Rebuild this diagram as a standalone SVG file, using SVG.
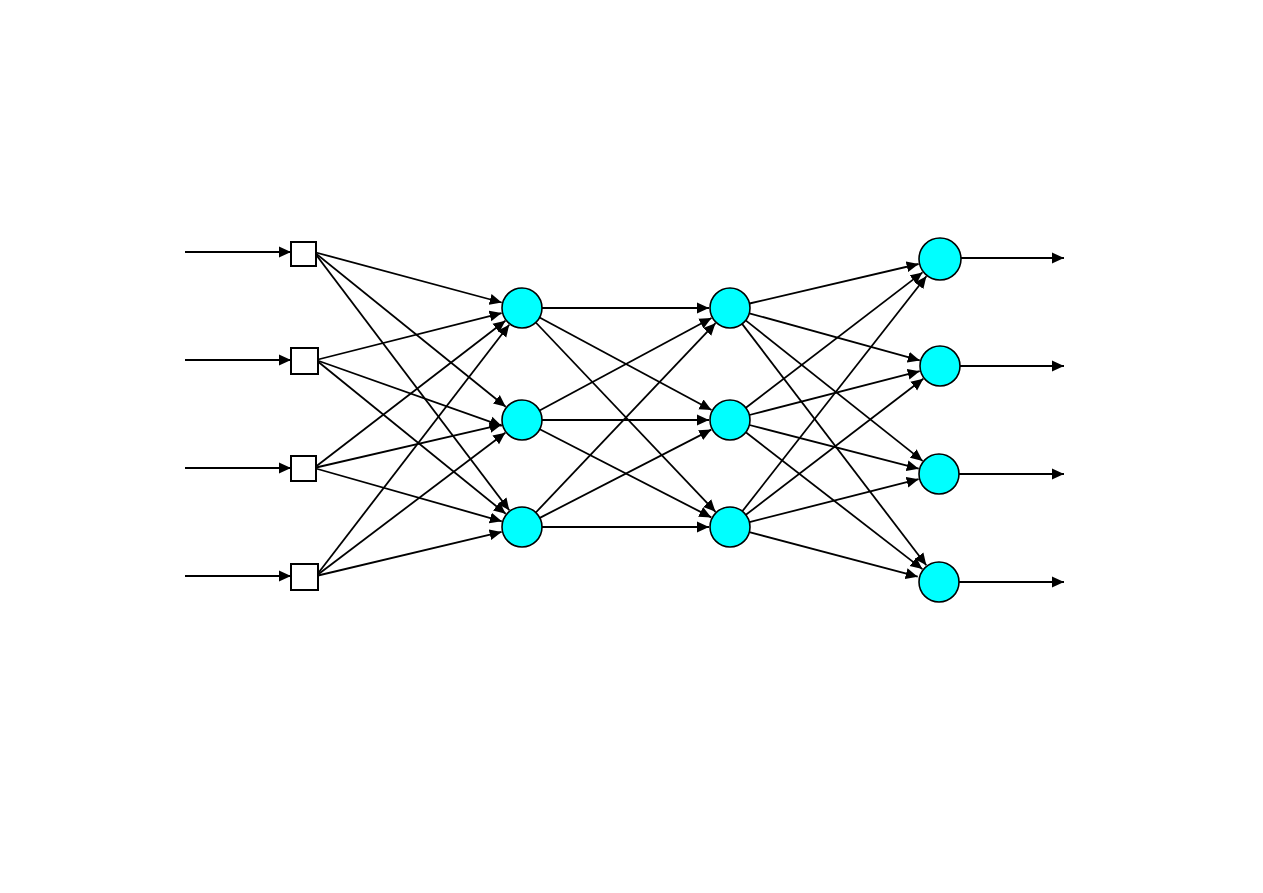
<svg xmlns="http://www.w3.org/2000/svg" width="1263" height="893" viewBox="0 0 1263 893">
<style>
.c{stroke:#000;stroke-width:1.8;fill:none;marker-end:url(#ah)}
.n{fill:#00FFFF;stroke:#000;stroke-width:1.6}
.s{fill:#fff;stroke:#000;stroke-width:2}
</style>
<defs>
<marker id="ah" markerUnits="userSpaceOnUse" markerWidth="12" markerHeight="12" refX="12" refY="6" orient="auto" viewBox="0 0 12 12">
<path d="M0,0.5 L12,6 L0,11.5 z" fill="#000"/>
</marker>
</defs>
<rect width="1263" height="893" fill="#fff"/>
<g id="connectors">
<line class="c" x1="185" y1="252" x2="291" y2="252"/>
<line class="c" x1="185" y1="360" x2="291" y2="360"/>
<line class="c" x1="185" y1="468" x2="291" y2="468"/>
<line class="c" x1="185" y1="576" x2="291" y2="576"/>
<line class="c" x1="314" y1="252" x2="501.7" y2="302.5"/>
<line class="c" x1="314" y1="252" x2="505.7" y2="406.8"/>
<line class="c" x1="314" y1="252" x2="509.3" y2="510.3"/>
<line class="c" x1="316" y1="360" x2="501.6" y2="313.1"/>
<line class="c" x1="316" y1="360" x2="501.8" y2="425.9"/>
<line class="c" x1="316" y1="360" x2="505.7" y2="513.8"/>
<line class="c" x1="314" y1="468" x2="505.4" y2="320.8"/>
<line class="c" x1="314" y1="468" x2="501.5" y2="424.7"/>
<line class="c" x1="314" y1="468" x2="501.8" y2="521.3"/>
<line class="c" x1="316" y1="576" x2="509.2" y2="324.7"/>
<line class="c" x1="316" y1="576" x2="505.3" y2="432.7"/>
<line class="c" x1="316" y1="576" x2="501.6" y2="531.9"/>
<line class="c" x1="542" y1="308" x2="709" y2="308"/>
<line class="c" x1="539.6" y1="317.5" x2="711.5" y2="410"/>
<line class="c" x1="535.8" y1="322.5" x2="715.5" y2="511.8"/>
<line class="c" x1="539.6" y1="410.5" x2="711.5" y2="318"/>
<line class="c" x1="542" y1="420" x2="709" y2="420"/>
<line class="c" x1="539.8" y1="429.2" x2="711.3" y2="517.4"/>
<line class="c" x1="535.8" y1="512.5" x2="715.5" y2="323.2"/>
<line class="c" x1="539.8" y1="517.9" x2="711.3" y2="429.6"/>
<line class="c" x1="542" y1="527" x2="709" y2="527"/>
<line class="c" x1="749.5" y1="303.5" x2="918.6" y2="264"/>
<line class="c" x1="749.3" y1="313.3" x2="919.8" y2="360.4"/>
<line class="c" x1="745.7" y1="320.4" x2="922.6" y2="460.9"/>
<line class="c" x1="742.1" y1="323.9" x2="926.3" y2="565.3"/>
<line class="c" x1="745.9" y1="407.8" x2="922.5" y2="272.4"/>
<line class="c" x1="749.4" y1="415" x2="919.7" y2="371.2"/>
<line class="c" x1="749.4" y1="425" x2="918.7" y2="468.7"/>
<line class="c" x1="745.8" y1="432.3" x2="922.4" y2="569.1"/>
<line class="c" x1="742.3" y1="511.3" x2="926.4" y2="276.3"/>
<line class="c" x1="745.9" y1="514.8" x2="923.3" y2="378.8"/>
<line class="c" x1="749.4" y1="522.1" x2="918.6" y2="479.2"/>
<line class="c" x1="749.3" y1="532.1" x2="917.7" y2="576.7"/>
<line class="c" x1="961" y1="258" x2="1064" y2="258"/>
<line class="c" x1="960" y1="366" x2="1064" y2="366"/>
<line class="c" x1="959" y1="474" x2="1064" y2="474"/>
<line class="c" x1="959" y1="582" x2="1064" y2="582"/>
</g>
<g id="in1"><rect class="s" x="291" y="242" width="25" height="24"/></g>
<g id="in2"><rect class="s" x="291" y="348" width="27" height="26"/></g>
<g id="in3"><rect class="s" x="291" y="456" width="25" height="25"/></g>
<g id="in4"><rect class="s" x="291" y="564" width="27" height="26"/></g>
<g id="h1a"><circle class="n" cx="522" cy="308" r="20"/></g>
<g id="h1b"><circle class="n" cx="522" cy="420" r="20"/></g>
<g id="h1c"><circle class="n" cx="522" cy="527" r="20"/></g>
<g id="h2a"><circle class="n" cx="730" cy="308" r="20"/></g>
<g id="h2b"><circle class="n" cx="730" cy="420" r="20"/></g>
<g id="h2c"><circle class="n" cx="730" cy="527" r="20"/></g>
<g id="out1"><circle class="n" cx="940" cy="259" r="21"/></g>
<g id="out2"><circle class="n" cx="940" cy="366" r="20"/></g>
<g id="out3"><circle class="n" cx="939" cy="474" r="20"/></g>
<g id="out4"><circle class="n" cx="939" cy="582" r="20"/></g>
</svg>
